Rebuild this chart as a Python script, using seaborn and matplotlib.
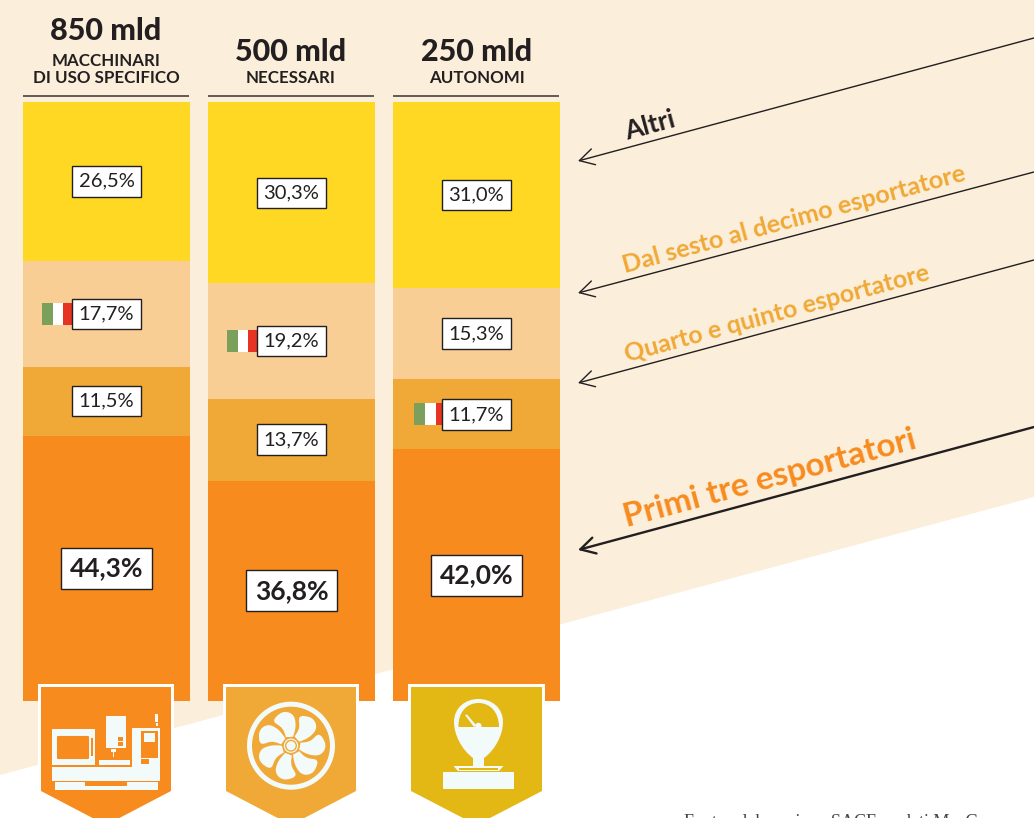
import numpy as np
import pandas as pd
import matplotlib
matplotlib.use('Agg')
import matplotlib.pyplot as plt
import seaborn as sns
from matplotlib.patches import Polygon, Rectangle, Circle, PathPatch
from matplotlib.path import Path
from matplotlib.transforms import Affine2D

# data
products = ['Macchinari di uso specifico', 'Necessari', 'Autonomi']
totals = ['850 mld', '500 mld', '250 mld']
subtitles = ['MACCHINARI\nDI USO SPECIFICO', 'NECESSARI', 'AUTONOMI']
primi_tre = [44.3, 36.8, 42.0]
quarto_quinto = [11.5, 13.7, 11.7]
sesto_decimo = [17.7, 19.2, 15.3]
altri = [26.5, 30.3, 31.0]
italy_band = ['sesto_decimo', 'sesto_decimo', 'quarto_quinto']

YELLOW = '#FED822'
PEACH = '#F8CE95'
AMBER = '#F0A936'
ORANGE = '#F78B1E'
CREAM = '#FBEEDA'
INK = '#231F20'
ICON = '#F2FAFA'

W, H = 1034, 818

sns.set_theme(style='white')
plt.rcParams['font.family'] = ['Lato', 'DejaVu Sans']

fig = plt.figure(figsize=(W / 100, H / 100), dpi=100, facecolor='white')


def px_axes(zorder):
    a = fig.add_axes([0, 0, 1, 1], zorder=zorder)
    a.set_xlim(0, W)
    a.set_ylim(H, 0)
    a.axis('off')
    a.patch.set_alpha(0)
    return a


bg = px_axes(0)
bg.add_patch(Polygon([(0, 0), (W, 0), (W, 497), (0, 775)], fc=CREAM, ec='none'))

# stacked bars
ax = fig.add_axes([23 / W, (H - 701) / H, 537 / W, 599 / H], zorder=1)
df = pd.DataFrame({'product': products, 'primi_tre': primi_tre, 'quarto_quinto': quarto_quinto,
                   'sesto_decimo': sesto_decimo, 'altri': altri})
bands = [('primi_tre', ORANGE), ('quarto_quinto', AMBER), ('sesto_decimo', PEACH), ('altri', YELLOW)]
bottom = np.zeros(len(df))
mids = {}
for name, colour in bands:
    sns.barplot(data=df, x='product', y=name, order=products, color=colour, saturation=1,
                width=167 / 185, bottom=bottom, linewidth=0, ax=ax)
    mids[name] = bottom + df[name].values / 2
    bottom = bottom + df[name].values
ax.set_xlim(-0.4514, 2.4514)
ax.set_ylim(0, 100)
ax.axis('off')

# percentage boxes
for name, _ in bands:
    big = name == 'primi_tre'
    for i, v in enumerate(df[name]):
        label = f'{v:.1f}%'.replace('.', ',')
        ax.text(i, mids[name][i], label, ha='center', va='center', color=INK,
                fontsize=19 if big else 14.5, fontweight='bold' if big else 'normal', zorder=6,
                bbox=dict(boxstyle='square,pad=0.33', fc='white', ec=INK, lw=1.0))

# italian flags next to the box
flag_w = 32 / 185 / 3
flag_h = 22 / 5.99
for i, name in enumerate(italy_band):
    x0 = i - 64.5 / 185 + (2.5 / 185 if i == 2 else 0)
    for j, c in enumerate(['#7BA05B', 'white', '#E63323']):
        ax.add_patch(Rectangle((x0 + j * flag_w, mids[name][i] - flag_h / 2), flag_w, flag_h,
                               fc=c, ec='none', zorder=5))

top = px_axes(2)

# headers
centres = [106, 290.5, 476.5]
rules = [(23, 189), (208, 374), (393, 559)]
for i, c in enumerate(centres):
    top.plot(rules[i], [95.5, 95.5], color='#4A4240', lw=1.2, solid_capstyle='butt')
    two_lines = '\n' in subtitles[i]
    top.text(c, 40 if two_lines else 61, totals[i], ha='center', va='baseline', color=INK,
             fontsize=22, fontweight='black')
    top.text(c, 83, subtitles[i], ha='center', va='baseline', color=INK, fontsize=12.2, fontweight='bold',
             linespacing=1.1)

# leader arrows
angle = 15.2
arrows = [((1034, 38), (578, 161), 1.0, 'Altri', (627, 140), INK, 19),
          ((1034, 172), (578, 293), 1.0, 'Dal sesto al decimo esportatore', (625, 273), AMBER, 18.2),
          ((1034, 260), (578, 383), 1.0, 'Quarto e quinto esportatore', (627, 362), AMBER, 18),
          ((1034, 427), (578, 550), 1.7, 'Primi tre esportatori', (627, 527), ORANGE, 24)]
for tail, tip, lw, label, pos, colour, size in arrows:
    top.annotate('', xy=tip, xytext=tail,
                 arrowprops=dict(arrowstyle='->,head_length=0.75,head_width=0.42', color=INK, lw=lw,
                                 shrinkA=0, shrinkB=0, mutation_scale=14))
    top.text(pos[0], pos[1], label, rotation=angle, rotation_mode='anchor', ha='left', va='baseline',
             color=colour, fontsize=size, fontweight='bold')

# badges
badge_fill = [ORANGE, AMBER, '#E3B714']
badge_x = [(41, 171), (226, 356), (411, 542)]
for (x0, x1), fill in zip(badge_x, badge_fill):
    mid = (x0 + x1) / 2
    top.add_patch(Polygon([(x0 - 3, 824), (x0 - 3, 684), (x1 + 3, 684), (x1 + 3, 824)], fc='white', ec='none'))
    top.add_patch(Polygon([(x0, 687), (x1, 687), (x1, 791), (mid, 825), (x0, 791)], fc=fill, ec='none'))


def box(x0, y0, x1, y1, c=ICON):
    top.add_patch(Rectangle((x0, y0), x1 - x0, y1 - y0, fc=c, ec='none'))


# machine tool icon
box(52.4, 729, 95, 765)
top.add_patch(Rectangle((58, 737), 30, 21, fc=ORANGE, ec=ORANGE, lw=1.5, joinstyle='round'))
box(91, 738, 92.5, 756, ORANGE)
box(106, 716, 126, 748)
box(117.5, 737, 123, 741, ORANGE)
box(117.5, 742, 123, 746, ORANGE)
box(111, 749, 116, 752)
box(113, 752, 114, 757)
box(99, 760, 130, 765)
box(132, 728, 159.6, 770)
box(141, 731, 158, 758, ORANGE)
box(143.5, 733, 155, 742)
box(141, 759, 148.5, 764, ORANGE)
box(155, 714, 158, 722)
box(155.5, 723, 157.5, 726)
box(52.4, 767, 159.6, 781)
box(54.7, 782, 157.7, 790)
box(85, 782, 127, 786, ORANGE)

# fan icon
fx, fy = 291, 745.7
top.add_patch(Circle((fx, fy), 41.5, fc='none', ec=ICON, lw=3.6))
C = Path.CURVE4
blade = Path([(1, -9), (3, -16), (3, -22), (1, -27), (-1, -33), (-9, -35), (-14, -31),
              (-19, -27), (-21, -23), (-18, -21), (-14, -18), (-10, -19), (-6, -8), (1, -9)],
             [Path.MOVETO, C, C, C, C, C, C, C, C, C, C, C, C, Path.CLOSEPOLY])
for k in range(7):
    t = Affine2D().rotate_deg(k * 360 / 7 + 6).translate(fx, fy) + top.transData
    top.add_patch(PathPatch(blade, fc=ICON, ec='none', transform=t))
top.add_patch(Circle((fx, fy), 8.5, fc=AMBER, ec='none'))
top.add_patch(Circle((fx, fy), 7.2, fc=ICON, ec='none'))
top.add_patch(Circle((fx, fy), 6.0, fc=AMBER, ec='none'))
top.add_patch(Circle((fx, fy), 4.6, fc=ICON, ec='none'))

# scale icon
bowl = Path([(473, 758), (462, 750), (454, 735), (454, 722), (454, 708), (465, 699), (478.5, 699),
             (492, 699), (503, 708), (503, 722), (503, 735), (495, 750), (484, 758),
             (484, 766), (473, 766), (473, 758)],
            [Path.MOVETO, C, C, C, C, C, C, C, C, C, C, C, C, Path.LINETO, Path.LINETO, Path.CLOSEPOLY])
top.add_patch(PathPatch(bowl, fc=ICON, ec='none'))
dome = Path([(458.5, 727), (458, 712), (467, 703), (478.5, 703), (490, 703), (499, 712), (499, 727), (458.5, 727)],
            [Path.MOVETO, C, C, C, C, C, C, Path.CLOSEPOLY])
top.add_patch(PathPatch(dome, fc='#E3B714', ec='none'))
top.add_patch(Polygon([(465, 715), (467, 714.5), (476, 725), (474, 727)], fc=ICON, ec='none'))
top.add_patch(Circle((478.4, 726), 3.2, fc=ICON, ec='none'))
top.add_patch(Polygon([(453.5, 766), (503.5, 766), (499, 771), (458, 771)], fc=ICON, ec='none'))
box(459, 768, 498, 770, '#E3B714')
box(443, 772, 514, 789)

# source, cut by the page edge as in the original
top.text(684, 827, 'Fonte: elaborazione SACE su dati MacGroup', ha='left', va='baseline', color='#444444',
         fontsize=13, family='Liberation Serif')

fig.savefig('out.png', dpi=100)
